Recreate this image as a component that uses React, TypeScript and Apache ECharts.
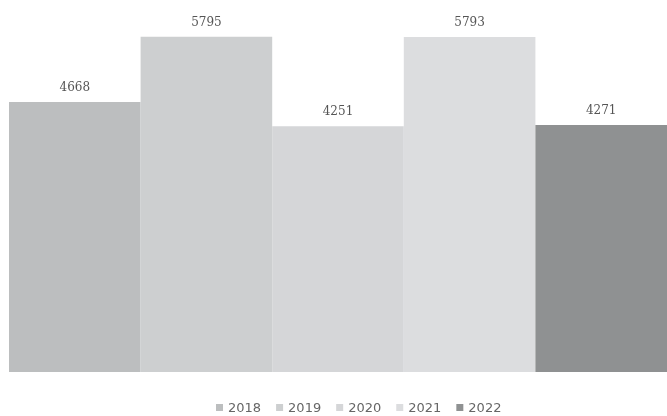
import React, { useEffect, useRef } from "react";
import * as echarts from "echarts";

const years = ["2018", "2019", "2020", "2021", "2022"];
const values = [4668, 5795, 4251, 5793, 4271];
const colors = ["#bcbebf", "#cdcfd0", "#d5d6d8", "#dcdddf", "#8f9192"];

export default function App() {
  const ref = useRef<HTMLDivElement>(null);
  useEffect(() => {
    const chart = echarts.init(ref.current!, null, { renderer: "svg" });
    chart.setOption({
      animation: false,
      grid: { left: 9, right: 0, top: 25, bottom: 44 },
      legend: {
        top: 396,
        left: 211,
        itemWidth: 7,
        itemHeight: 7,
        itemGap: 15,
        icon: "rect",
        textStyle: { color: "#666", fontSize: 13, fontFamily: "DejaVu Sans" },
        data: years,
      },
      xAxis: { type: "category", data: [""], show: false },
      yAxis: { type: "value", min: 0, max: 6000, show: false },
      series: years.map((y, i) => ({
        name: y,
        type: "bar",
        data: [values[i]],
        barGap: "0%",
        barCategoryGap: "0%",
        itemStyle: { color: colors[i] },
        label: {
          show: true,
          position: "top",
          distance: 9,
          color: "#555",
          fontSize: 12,
          fontFamily: "DejaVu Serif",
        },
      })),
    });
    return () => chart.dispose();
  }, []);
  return (
    <div
      ref={ref}
      style={{ position: "fixed", left: 0, top: 0, width: 667, height: 416 }}
    />
  );
}
